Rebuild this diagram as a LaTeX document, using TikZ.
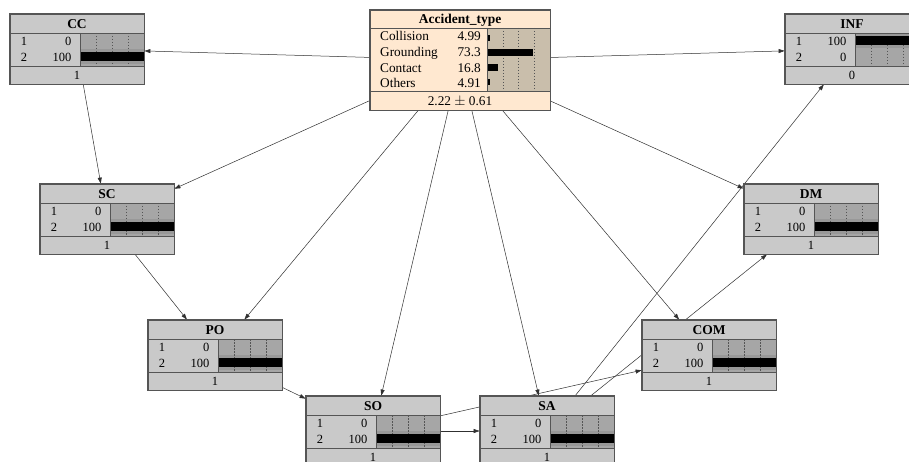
\documentclass[tikz,border=0pt]{standalone}
\usepackage{fontspec}
\setmainfont{Liberation Serif}
\usetikzlibrary{arrows.meta,backgrounds}
\definecolor{gfill}{HTML}{C9C9C9}
\definecolor{gbar}{HTML}{A6A6A6}
\definecolor{gband}{HTML}{989898}
\definecolor{afill}{HTML}{FFE8D0}
\definecolor{abar}{HTML}{C9BEAB}
\definecolor{bord}{HTML}{555555}
\definecolor{edgec}{HTML}{303030}
\tikzset{
 gbox/.style={draw=bord, line width=0.8pt, fill=gfill, minimum width=134pt, minimum height=70pt, inner sep=0pt},
 abox/.style={draw=bord, line width=0.8pt, fill=afill, minimum width=180pt, minimum height=100pt, inner sep=0pt},
 sepline/.style={draw=bord, line width=0.8pt},
 gridline/.style={draw=bord, line width=0.5pt, dash pattern=on 1.5pt off 1.5pt},
 ttl/.style={inner sep=0pt, font=\fontsize{13.5}{15}\selectfont\bfseries},
 num/.style={inner sep=0pt, font=\fontsize{12.5}{14}\selectfont},
 txt/.style={inner sep=0pt, font=\fontsize{13.3}{15}\selectfont},
 link/.style={draw=edgec, line width=0.5pt, -{Triangle[length=6pt,width=4pt]}}
}
% #1 name, #2 x0, #3 y0, #4 title, #5 value 1, #6 value 2, #7 footer, #8 bar top offset
\newcommand\bnnode[8]{%
 \node[gbox] (#1) at ({#2+67},{#3+35}) {};
 \fill[gbar] ({#2+70},{#3+19}) rectangle ({#2+134},{#3+52});
 \fill[gband] ({#2+70},{#3+#8-3}) rectangle ({#2+134},{#3+#8+12});
 \foreach \q in {86,102,118} \draw[gridline] ({#2+\q},{#3+19}) -- ({#2+\q},{#3+52});
 \fill[black] ({#2+70},{#3+#8}) rectangle ({#2+134},{#3+#8+9});
 \draw[sepline] (#1.north west) rectangle (#1.south east);
 \draw[sepline] ({#2},{#3+19}) -- ({#2+134},{#3+19});
 \draw[sepline] ({#2},{#3+52}) -- ({#2+134},{#3+52});
 \draw[sepline] ({#2+70},{#3+19}) -- ({#2+70},{#3+52});
 \node[ttl, anchor=base] (#1-t) at ({#2+67},{#3+14.3}) {#4};
 \node[num, anchor=base] (#1-s1) at ({#2+14},{#3+31.8}) {1};
 \node[num, anchor=base east] (#1-v1) at ({#2+61.5},{#3+31.8}) {#5};
 \node[num, anchor=base] (#1-s2) at ({#2+14},{#3+47.5}) {2};
 \node[num, anchor=base east] (#1-v2) at ({#2+61.5},{#3+47.5}) {#6};
 \node[num, anchor=base] (#1-f) at ({#2+67},{#3+65.3}) {#7};
}
\begin{document}
\begin{tikzpicture}[x=1pt,y=-1pt]
\useasboundingbox (0,0) rectangle (909,462);
\clip (0,0) rectangle (909,462);
\begin{scope}[on background layer]
\fill[white] (0,0) rectangle (909,462);
\end{scope}

% Accident_type node
\node[abox] (acc) at (460,60) {};
\fill[abar] (487,28) rectangle (550,91);
\foreach \q in {502.75,518.5,534.25} \draw[gridline] (\q,28) -- (\q,91);
\fill[black] (487,34.6) rectangle (490.1,41);
\fill[black] (487,49.4) rectangle (533.2,55.8);
\fill[black] (487,64.4) rectangle (497.6,70.8);
\fill[black] (487,79) rectangle (490.1,85.4);
\draw[sepline] (acc.north west) rectangle (acc.south east);
\draw[sepline] (370,28) -- (550,28);
\draw[sepline] (370,91) -- (550,91);
\draw[sepline] (487,28) -- (487,91);
\node[ttl, anchor=base] (acc-t) at (460,23.7) {Accident\_type};
\node[txt, anchor=base west] (acc-l1) at (380,41) {Collision};
\node[txt, anchor=base west] (acc-l2) at (380,56.7) {Grounding};
\node[txt, anchor=base west] (acc-l3) at (380,72.3) {Contact};
\node[txt, anchor=base west] (acc-l4) at (380,87.6) {Others};
\node[txt, anchor=base east] (acc-v1) at (481,41) {4.99};
\node[txt, anchor=base east] (acc-v2) at (481,56.7) {73.3};
\node[txt, anchor=base east] (acc-v3) at (481,72.3) {16.8};
\node[txt, anchor=base east] (acc-v4) at (481,87.6) {4.91};
\node[txt, anchor=base] (acc-f) at (460,105.7) {2.22 $\pm$ 0.61};

\bnnode{CC}{10}{14}{CC}{0}{100}{1}{38}
\bnnode{INF}{785}{14}{INF}{100}{0}{0}{22}
\bnnode{SC}{40}{184}{SC}{0}{100}{1}{38}
\bnnode{DM}{744}{184}{DM}{0}{100}{1}{38}
\bnnode{PO}{148}{320}{PO}{0}{100}{1}{38}
\bnnode{COM}{642}{320}{COM}{0}{100}{1}{38}
\bnnode{SO}{306}{396}{SO}{0}{100}{1}{38}
\bnnode{SA}{480}{396}{SA}{0}{100}{1}{38}

\begin{scope}[on background layer]
\draw[link] (acc) -- (CC);
\draw[link] (acc) -- (INF);
\draw[link] (acc) -- (SC);
\draw[link] (acc) -- (PO);
\draw[link] (acc) -- (SO);
\draw[link] (acc) -- (SA);
\draw[link] (acc) -- (COM);
\draw[link] (acc) -- (DM);
\draw[link] (CC) -- (SC);
\draw[link] (SC) -- (PO);
\draw[link] (PO) -- (SO);
\draw[link] (SO) -- (SA);
\draw[link] (SO) -- (COM);
\draw[link] (SA) -- (INF);
\draw[link] (SA) -- (DM);
\end{scope}
\end{tikzpicture}
\end{document}
